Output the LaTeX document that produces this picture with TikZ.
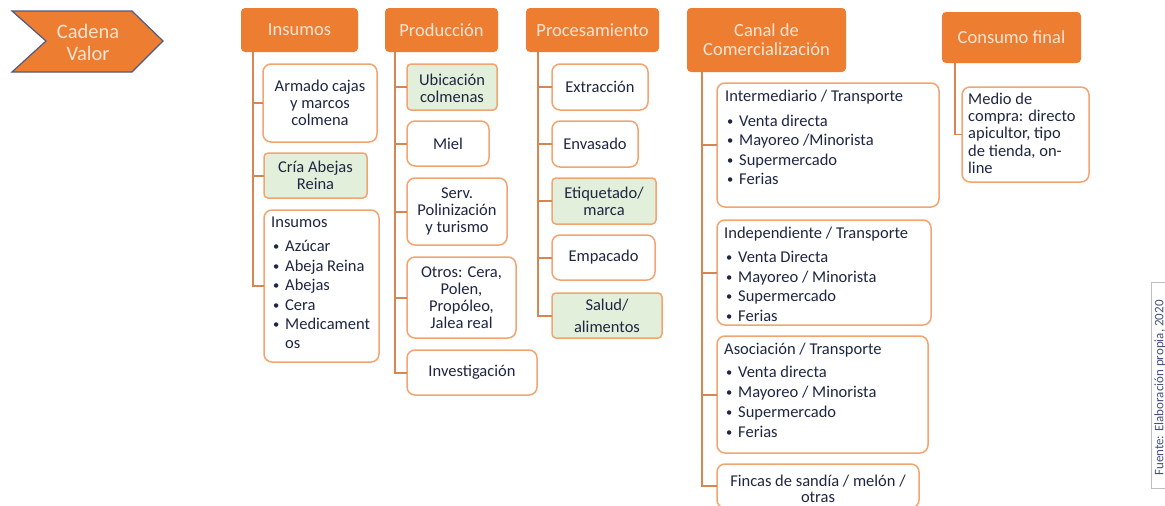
\documentclass[tikz,border=0pt]{standalone}
\usepackage{fontspec}
\setmainfont{Carlito}
\definecolor{hdrorange}{RGB}{237,125,49}
\definecolor{hdrtext}{RGB}{252,228,212}
\definecolor{boxline}{RGB}{242,165,112}
\definecolor{connline}{RGB}{214,134,82}
\definecolor{boxgreen}{RGB}{226,239,218}
\definecolor{navytext}{RGB}{30,38,66}
\definecolor{chevline}{RGB}{78,92,128}
\definecolor{srcline}{RGB}{191,191,191}
\definecolor{srctext}{RGB}{70,82,125}
\newcommand\bx[6]{\node[#6, minimum width={(#4-#2)*1pt}, minimum height={(#5-#3)*1pt}] (#1) at ({(#2+#4)/2},{(#3+#5)/2}) {};}
\newcommand\bul[1]{\hspace*{2pt}\makebox[12pt][l]{\raisebox{1pt}{\fontsize{12.5}{12.5}\selectfont\textbullet}}#1}
\begin{document}
\begin{tikzpicture}[x=1pt,y=-1pt,
  hdr/.style={fill=hdrorange, rounded corners=4pt, inner sep=0pt, outer sep=0pt},
  hdrtxt/.style={text=hdrtext, font=\fontsize{18.5}{19}\selectfont, align=center, inner sep=0pt},
  cbox/.style={draw=boxline, line width=1.5pt, fill=white, rounded corners=8pt, inner sep=0pt, outer sep=0pt},
  gbox/.style={cbox, fill=boxgreen, rounded corners=4pt},
  conn/.style={draw=connline, line width=2pt},
  txt/.style={text=navytext, font=\fontsize{16.5}{17}\selectfont, align=center, inner sep=0pt},
  ltxt/.style={text=navytext, align=left, inner sep=0pt, anchor=base west}]
\useasboundingbox (0,0) rectangle (1165,506);
\fill[white] (0,0) rectangle (1165,506);

% chevron
\draw[fill=hdrorange, draw=chevline, line width=1.2pt, line join=miter]
  (12,11) -- (132,11) -- (163,41) -- (132,72) -- (12,72) -- (46,41) -- cycle;
\node[hdrtxt, font=\fontsize{20.5}{22}\selectfont] (cadena) at (88,42) {Cadena\\Valor};

% headers
\bx{ins}{241}{8}{358}{52}{hdr}
\bx{prod}{385}{8}{498}{52}{hdr}
\bx{proc}{526}{8}{659}{52}{hdr}
\bx{canal}{687}{8}{846}{72}{hdr}
\bx{cons}{942}{12}{1081}{63}{hdr}
\node[hdrtxt] (inst) at (ins) {Insumos};
\node[hdrtxt] (prodt) at (prod) {Producción};
\node[hdrtxt] (proct) at (proc) {Procesamiento};
\node[hdrtxt] (canalt) at (canal) {Canal de\\Comercialización};
\node[hdrtxt] (const) at (cons) {Consumo final};

% Insumos children
\bx{ins1}{263}{64}{377}{142}{cbox}
\bx{ins2}{264}{153}{367}{198}{gbox}
\bx{ins3}{264}{210}{379}{362}{cbox}
\node[txt] (ins1t) at (ins1) {Armado cajas\\y marcos\\colmena};
\node[txt] (ins2t) at (ins2) {Cría Abejas\\Reina};
\node[ltxt, font=\fontsize{16.5}{19.5}\selectfont] (ins3t) at (271,348.5)
  {Insumos\\[4.5pt]\bul{Azúcar}\\\bul{Abeja Reina}\\\bul{Abejas}\\\bul{Cera}\\\bul{Medicament}\\[-0.5pt]\hspace*{14pt}os};

% Produccion children
\bx{p1}{407}{64}{497}{110}{gbox}
\bx{p2}{407}{121}{489}{166}{cbox}
\bx{p3}{407}{178}{507}{245}{cbox}
\bx{p4}{407}{257}{516}{338}{cbox}
\bx{p5}{407}{350}{537}{395}{cbox}
\node[txt] (p1t) at ([yshift=-1.5pt]p1.center) {Ubicación\\colmenas};
\node[txt] (p2t) at (p2) {Miel};
\node[txt] (p3t) at (p3) {Serv.\\Polinización\\y turismo};
\node[txt] (p4t) at (p4) {Otros: Cera,\\Polen,\\Propóleo,\\Jalea real};
\node[txt] (p5t) at (p5) {Investigación};

% Procesamiento children
\bx{r1}{552}{64}{648}{110}{cbox}
\bx{r2}{552}{121}{638}{167}{cbox}
\bx{r3}{552}{178}{656}{224}{gbox}
\bx{r4}{552}{235}{655}{280}{cbox}
\bx{r5}{552}{293}{662}{338}{gbox}
\node[txt] (r1t) at (r1) {Extracción};
\node[txt] (r2t) at (r2) {Envasado};
\node[txt] (r3t) at (r3) {Etiquetado/\\marca};
\node[txt] (r4t) at (r4) {Empacado};
\node[txt, font=\fontsize{16.5}{22}\selectfont] (r5t) at (r5) {Salud/\\alimentos};

% Canal children
\bx{c1}{717}{83}{939}{207}{cbox}
\bx{c2}{717}{220}{931}{325}{cbox}
\bx{c3}{717}{336}{928}{453}{cbox}
\bx{c4}{717}{464}{919}{508}{cbox}
\node[ltxt, font=\fontsize{16.5}{19.3}\selectfont] (c1t) at (725,184.5)
  {Intermediario / Transporte\\[5.5pt]\bul{Venta directa}\\\bul{Mayoreo /Minorista}\\\bul{Supermercado}\\\bul{Ferias}};
\node[ltxt, font=\fontsize{16.5}{19.7}\selectfont] (c2t) at (724,321.5)
  {Independiente / Transporte\\[4.5pt]\bul{Venta Directa}\\\bul{Mayoreo / Minorista}\\\bul{Supermercado}\\\bul{Ferias}};
\node[ltxt, font=\fontsize{16.5}{20}\selectfont] (c3t) at (724,437.5)
  {Asociación / Transporte\\[3pt]\bul{Venta directa}\\\bul{Mayoreo / Minorista}\\\bul{Supermercado}\\\bul{Ferias}};
\node[txt, font=\fontsize{16.5}{16.5}\selectfont] (c4t) at (818,489) {Fincas de sandía / melón /\\otras};

% Consumo child
\bx{m1}{962}{87}{1089}{182}{cbox}
\node[ltxt, font=\fontsize{16.5}{17.3}\selectfont] (m1t) at (968,173.5)
  {Medio de\\compra: directo\\apicultor, tipo\\de tienda, on-\\line};

% connectors
\draw[conn] ([xshift=12pt]ins.south west) coordinate (insT) |- (ins3.west);
\foreach \c in {ins1,ins2} \draw[conn] (\c.west) -- (\c.west -| insT);
\draw[conn] ([xshift=10pt]prod.south west) coordinate (prodT) |- (p5.west);
\foreach \c in {p1,p2,p3,p4} \draw[conn] (\c.west) -- (\c.west -| prodT);
\draw[conn] ([xshift=12pt]proc.south west) coordinate (procT) |- (r5.west);
\foreach \c in {r1,r2,r3,r4} \draw[conn] (\c.west) -- (\c.west -| procT);
\draw[conn] ([xshift=15pt]canal.south west) coordinate (canalT) |- (c4.west);
\foreach \c in {c1,c2,c3} \draw[conn] (\c.west) -- (\c.west -| canalT);
\draw[conn, line width=1.5pt] ([xshift=13pt]cons.south west) |- (m1.west);

% source note
\bx{src}{1151}{282}{1185}{488}{draw=srcline, line width=1pt, fill=white, inner sep=0pt, outer sep=0pt}
\node[rotate=90, text=srctext, font=\fontsize{13}{13}\selectfont, inner sep=0pt] (srct) at (1160,388) {Fuente: Elaboración propia, 2020};
\end{tikzpicture}
\end{document}
